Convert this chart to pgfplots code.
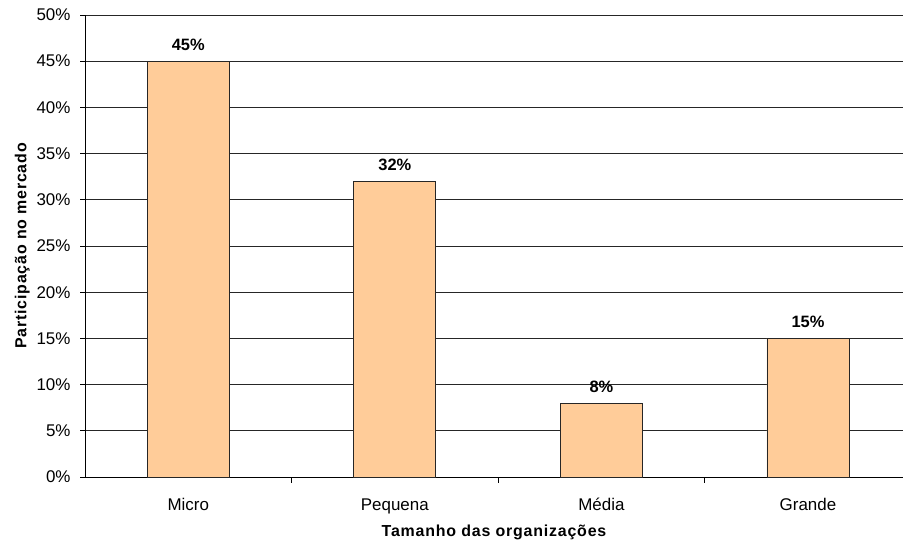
\documentclass[border=0pt]{standalone}
\usepackage{pgfplots}
\pgfplotsset{compat=1.18}
\usepackage{fontspec}
\setmainfont{Liberation Sans}
\definecolor{barfill}{RGB}{255,204,153}
\begin{document}
\begin{tikzpicture}[x=1bp,y=1bp]
\path[use as bounding box] (0,0) rectangle (903,544);
\begin{axis}[
  at={(85bp,67bp)}, anchor=south west,
  width=818bp, height=462bp, scale only axis,
  ybar, bar width=82bp,
  xmin=-0.5, xmax=3.46,
  ymin=0, ymax=50,
  ytick={0,5,...,50},
  yticklabel={\pgfmathprintnumber{\tick}\%},
  xtick={0,1,2,3},
  xticklabels={Micro,Pequena,Média,Grande},
  minor xtick={0.5,1.5,2.5},
  axis x line*=bottom, axis y line*=left,
  axis line style={black, line width=0.8bp, -},
  tick align=outside,
  major tick length=5bp, minor tick length=6bp,
  major x tick style={draw=none},
  minor x tick style={black, line width=0.8bp},
  ytick style={black, line width=0.8bp},
  ymajorgrids, grid style={black!85, line width=0.8bp},
  /pgf/number format/assume math mode=true,
  tick label style={font=\fontsize{17}{20}\selectfont},
  yticklabel style={xshift=-6bp},
  xticklabel style={yshift=-13bp},
  xlabel={Tamanho das organizações},
  ylabel={Participação no mercado},
  label style={font=\bfseries\fontsize{16}{19}\selectfont\addfontfeatures{LetterSpace=5}},
  xlabel style={at={(axis description cs:0.5,0)}, anchor=north, inner sep=0pt, yshift=-48bp},
  ylabel style={yshift=0bp},
  nodes near coords={\pgfmathprintnumber{\pgfplotspointmeta}\%},
  nodes near coords style={font=\bfseries\fontsize{16.5}{19}\selectfont, yshift=7bp},
  clip=false,
]
\addplot[fill=barfill, draw=black!85, line width=0.8bp] coordinates {
  (0,45) (1,32) (2,8) (3,15)
};
\end{axis}
\end{tikzpicture}
\end{document}
